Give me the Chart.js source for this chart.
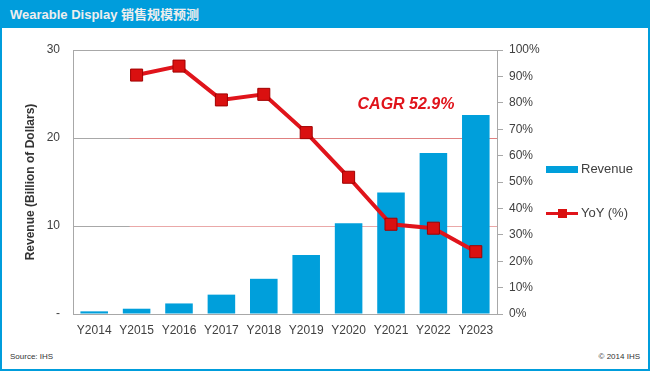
<!DOCTYPE html>
<html>
<head>
<meta charset="utf-8">
<script src="https://cdn.jsdelivr.net/npm/chart.js@4/dist/chart.umd.min.js"></script>
<style>
  body { margin: 0; background: #fff; }
  #box { position: relative; width: 650px; height: 371px; box-sizing: border-box;
         border: 2px solid #009DDC; border-top: none; font-family: "Liberation Sans", Arial, sans-serif; overflow: hidden; }
  #head { position: absolute; left: -2px; top: 0; width: 650px; height: 28px; background: #009DDC;
          color: #EEEEEE; font-weight: bold; font-size: 13px; line-height: 29px; padding-left: 10px; box-sizing: border-box;
          font-family: "Liberation Sans", "Noto Sans CJK SC", sans-serif; }
  #myChart { position: absolute; left: -2px; top: 28px; }
  #legend { position: absolute; left: 544px; top: 160px; font-size: 13px; color: #404040; }
  .item { position: relative; height: 20px; margin-bottom: 24px; }
  .sw { position: absolute; left: 0; top: 6px; width: 32px; height: 7px; }
  .ln { position: absolute; left: 0; top: 8px; width: 32px; height: 3px; }
  .mk { position: absolute; left: 12px; top: 5px; width: 9px; height: 9px; }
  .txt { position: absolute; left: 35px; top: 1px; white-space: nowrap; }
  .foot { position: absolute; top: 352px; font-size: 8px; color: #333; }
</style>
</head>
<body>
<div id="box">
  <div id="head">Wearable Display 销售规模预测</div>
  <canvas id="myChart" width="650" height="318"></canvas>
  <div id="legend"></div>
  <div class="foot" style="left:8px">Source: IHS</div>
  <div class="foot" style="right:8px">© 2014 IHS</div>
</div>
<script>
const years = ['Y2014', 'Y2015', 'Y2016', 'Y2017', 'Y2018', 'Y2019', 'Y2020', 'Y2021', 'Y2022', 'Y2023'];
const revenue = [0.3, 0.6, 1.2, 2.2, 4.0, 6.7, 10.3, 13.8, 18.3, 22.6];
const yoy = [null, 90.5, 93.9, 81.1, 83.2, 68.7, 51.8, 34.0, 32.5, 23.6];
const cagrText = 'CAGR 52.9%';

const blue = '#009FDB';
const red = '#E0141B';
const grey = '#A8A8A8';
const textCol = '#404040';

// grey stub on the left end of the 10 / 20 lines, like the original
const gridStub = {
  id: 'gridStub',
  beforeDatasetsDraw(chart) {
    const { ctx, chartArea, scales } = chart;
    const xEnd = scales.x.getPixelForValue(1) - 7;
    ctx.save();
    ctx.strokeStyle = grey;
    ctx.lineWidth = 1;
    [10, 20].forEach(v => {
      const y = Math.round(scales.y.getPixelForValue(v)) + 0.5;
      ctx.beginPath();
      ctx.moveTo(chartArea.left, y);
      ctx.lineTo(xEnd, y);
      ctx.stroke();
    });
    ctx.restore();
  }
};

const cagrLabel = {
  id: 'cagrLabel',
  afterDatasetsDraw(chart) {
    const { ctx, scales } = chart;
    ctx.save();
    ctx.font = 'italic bold 16px "Liberation Sans", Arial, sans-serif';
    ctx.fillStyle = red;
    ctx.textAlign = 'center';
    ctx.textBaseline = 'middle';
    ctx.fillText(cagrText, scales.x.getPixelForValue(7) + 15, scales.y.getPixelForValue(23.8));
    ctx.restore();
  }
};

let ctx = document.getElementById('myChart').getContext('2d');
let myChart = new Chart(ctx, {
  data: {
    labels: years,
    datasets: [{
      type: 'line',
      label: 'YoY (%)',
      data: yoy,
      yAxisID: 'y1',
      borderColor: red,
      borderWidth: 4,
      pointStyle: 'rect',
      pointRadius: 8.5,
      pointBackgroundColor: '#DA1010',
      pointBorderColor: '#A00000',
      pointBorderWidth: 1,
      order: 1
    }, {
      type: 'bar',
      label: 'Revenue',
      data: revenue,
      yAxisID: 'y',
      backgroundColor: blue,
      barPercentage: 0.65,
      categoryPercentage: 1,
      order: 2
    }]
  },
  options: {
    responsive: false,
    animation: false,
    layout: { padding: { left: 12, right: 0, top: 22, bottom: 0 } },
    plugins: {
      legend: { display: false },
      tooltip: { enabled: false }
    },
    scales: {
      x: {
        grid: { display: true, drawOnChartArea: false, drawTicks: false },
        border: { color: grey },
        ticks: { color: textCol, font: { size: 12, family: '"Liberation Sans", Arial' }, padding: 9, maxRotation: 0 },
        afterFit: s => { s.height = 32; }
      },
      y: {
        position: 'left',
        min: 0, max: 30,
        ticks: {
          stepSize: 10,
          color: textCol,
          padding: 13,
          font: { size: 12, family: '"Liberation Sans", Arial' },
          callback: v => v === 0 ? '-' : v
        },
        grid: {
          drawTicks: false,
          color: c => c.tick && c.tick.value === 30 ? grey : (c.tick && c.tick.value === 10 ? '#EAA8A8' : '#E08080')
        },
        border: { color: grey },
        title: {
          display: true,
          text: 'Revenue (Billion of Dollars)',
          color: '#333',
          font: { size: 12, weight: 'bold', family: '"Liberation Sans", Arial' },
          padding: { top: 11, bottom: 0 }
        },
        afterFit: s => { s.width = 61; }
      },
      y1: {
        position: 'right',
        min: 0, max: 100,
        ticks: {
          stepSize: 10,
          color: textCol,
          padding: 6,
          font: { size: 12, family: '"Liberation Sans", Arial' },
          callback: v => v + '%'
        },
        grid: { drawOnChartArea: false, tickLength: 6, color: grey },
        border: { color: grey },
        afterFit: s => { s.width = 153; }
      }
    }
  },
  plugins: [gridStub, cagrLabel]
});

// legend built from the datasets, bar first
const legendEl = document.getElementById('legend');
[1, 0].forEach(i => {
  const ds = myChart.data.datasets[i];
  const item = document.createElement('div');
  item.className = 'item';
  if (ds.type === 'bar') {
    item.innerHTML = '<div class="sw" style="background:' + ds.backgroundColor + '"></div>';
  } else {
    item.innerHTML = '<div class="ln" style="background:' + ds.borderColor + '"></div>' +
      '<div class="mk" style="background:' + ds.pointBackgroundColor + '"></div>';
  }
  item.innerHTML += '<span class="txt">' + ds.label + '</span>';
  legendEl.appendChild(item);
});
</script>
</body>
</html>
